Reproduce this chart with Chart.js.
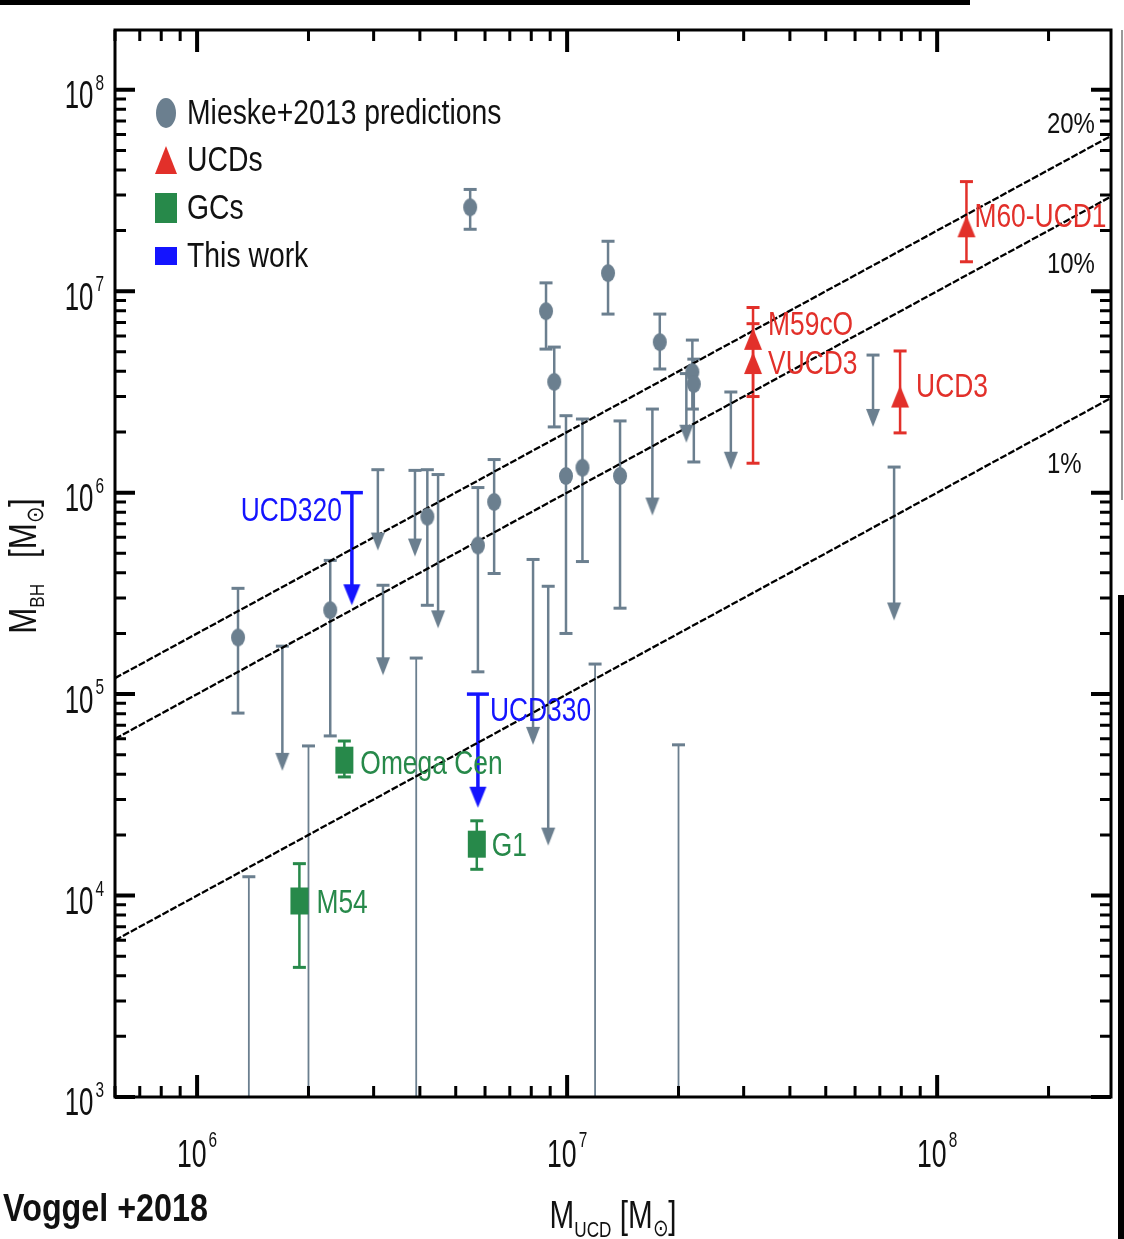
<!DOCTYPE html>
<html lang="en">
<head>
<meta charset="UTF-8">
<title>Black hole mass vs UCD mass</title>
<script src="https://cdn.jsdelivr.net/npm/chart.js"></script>
<style>
  html, body { margin: 0; padding: 0; background: #fff; }
  #wrap { width: 1124px; height: 1239px; position: relative; }
</style>
</head>
<body>
<div id="wrap"><canvas id="chart" width="1124" height="1239"></canvas></div>
<script>
// axis ranges, solar masses
const xRange = [6.0e5, 2.95e8];
const yRange = [1.0e3, 1.98e8];

// Mieske+2013 predictions with a central value
const mieskeX  = [1.29e6, 2.29e6, 4.19e6, 5.74e6, 6.35e6, 5.47e6, 8.77e6, 9.23e6, 1.29e7, 1.78e7, 9.93e6, 1.10e7, 1.39e7, 2.18e7, 2.20e7];
const mieskeY  = [1.91e5, 2.61e5, 7.6e5, 5.47e5, 9.0e5, 2.61e7, 7.96e6, 3.55e6, 1.23e7, 5.59e6, 1.21e6, 1.33e6, 1.21e6, 3.97e6, 3.46e6];
const mieskeLo = [8.05e4, 6.2e4, 2.76e5, 1.29e5, 3.97e5, 2.03e7, 5.16e6, 2.12e6, 7.7e6, 4.11e6, 2.0e5, 4.55e5, 2.67e5, 2.6e6, 1.42e6];
const mieskeHi = [3.35e5, 4.61e5, 1.30e6, 1.06e6, 1.46e6, 3.2e7, 1.10e7, 5.28e6, 1.77e7, 7.7e6, 2.41e6, 2.32e6, 2.27e6, 5.72e6, 4.6e6];

// Mieske+2013 upper limits (cap value and arrow tip)
const limitX   = [1.70e6, 3.08e6, 3.18e6, 3.88e6, 4.48e6, 8.09e6, 8.89e6, 1.70e7, 2.10e7, 2.77e7, 6.71e7, 7.65e7];
const limitTop = [1.73e5, 1.30e6, 3.47e5, 1.29e6, 1.23e6, 4.66e5, 3.43e5, 2.6e6, 3.9e6, 3.16e6, 4.82e6, 1.34e6];
const limitTip = [4.16e4, 5.16e5, 1.24e5, 4.82e5, 2.12e5, 5.6e4, 1.77e4, 7.7e5, 1.77e6, 1.30e6, 2.12e6, 2.32e5];

// Mieske+2013 bars whose lower end falls below the plot
const openX   = [1.38e6, 2.0e6, 3.91e6, 1.19e7, 2.0e7];
const openTop = [1.24e4, 5.53e4, 1.51e5, 1.41e5, 5.6e4];

// UCDs with measured black holes
const ucdNames = ['M60-UCD1', 'M59cO', 'VUCD3', 'UCD3'];
const ucdX  = [1.2e8, 3.18e7, 3.18e7, 7.94e7];
const ucdY  = [2.1e7, 5.8e6, 4.4e6, 3.0e6];
const ucdLo = [1.4e7, 3.0e6, 1.4e6, 1.98e6];
const ucdHi = [3.5e7, 8.3e6, 6.9e6, 5.05e6];

// globular clusters
const gcNames = ['Omega Cen', 'G1', 'M54'];
const gcX  = [2.5e6, 5.7e6, 1.89e6];
const gcY  = [4.7e4, 1.8e4, 9.4e3];
const gcLo = [3.88e4, 1.35e4, 4.4e3];
const gcHi = [5.85e4, 2.35e4, 1.44e4];

// this work: upper limits
const workNames = ['UCD320', 'UCD330'];
const workX   = [2.62e6, 5.74e6];
const workTop = [1.0e6, 1.0e5];
const workTip = [2.76e5, 2.73e4];

// constant black hole mass fractions
const ratioValues = [0.2, 0.1, 0.01];
const ratioLabels = ['20%', '10%', '1%'];
const ratioLabelX = [1.98e8, 1.98e8, 1.98e8];
const ratioLabelY = [6.7e7, 1.36e7, 1.38e6];

const legendLabels = ['Mieske+2013 predictions', 'UCDs', 'GCs', 'This work'];

// styles
const FONT = "'Liberation Sans', Arial, sans-serif";
const GRAY = '#6b7f8f', RED = '#e2302a', GREEN = '#27894a', BLUE = '#1414ff';

// label offsets in pixels from the marker
const ucdLabelOffset = [[8, -8], [15, -13], [15, 2], [16, -9]];
const gcLabelOffset = [[16, 5], [15, 3], [17, 3]];

function makeMarker(w, h, shape, color, tipCentered) {
  const c = document.createElement('canvas');
  c.width = w + 2;
  c.height = tipCentered ? 2 * h + 2 : h + 2;
  const g = c.getContext('2d');
  g.fillStyle = color;
  g.beginPath();
  if (shape === 'ellipse') g.ellipse(c.width / 2, c.height / 2, w / 2, h / 2, 0, 0, Math.PI * 2);
  else if (shape === 'rect') g.rect(1, 1, w, h);
  else if (shape === 'up') { g.moveTo(c.width / 2, 1); g.lineTo(w + 1, h + 1); g.lineTo(1, h + 1); g.closePath(); }
  else if (shape === 'down') { g.moveTo(1, 1); g.lineTo(w + 1, 1); g.lineTo(c.width / 2, h + 1); g.closePath(); }
  g.fill();
  return c;
}

const dotImg = makeMarker(14, 18, 'ellipse', GRAY);
const grayArrow = makeMarker(14, 18, 'down', GRAY, true);
const redTri = makeMarker(18, 22, 'up', RED);
const greenRect = makeMarker(18, 27, 'rect', GREEN);
const blueArrow = makeMarker(17, 21, 'down', BLUE, true);

function logTicks(min, max) {
  const t = [];
  for (let e = Math.floor(Math.log10(min)); e <= Math.ceil(Math.log10(max)); e++) {
    for (let m = 1; m <= 9; m++) {
      const v = m * Math.pow(10, e);
      if (v >= min * 0.999 && v <= max * 1.001) t.push({ value: v });
    }
  }
  return t;
}
const isDecade = v => Math.abs(Math.log10(v) - Math.round(Math.log10(v))) < 1e-9;

// condensed text: the figure uses a narrow Helvetica, emulated with a horizontal squeeze
function text(ctx, s, x, y, size, sx, align, opt) {
  opt = opt || {};
  ctx.save();
  ctx.font = (opt.bold ? 'bold ' : '') + size + 'px ' + FONT;
  ctx.textBaseline = opt.baseline || 'middle';
  const w = ctx.measureText(s).width * sx;
  const x0 = align === 'right' ? x - w : align === 'center' ? x - w / 2 : x;
  ctx.translate(x0, y);
  ctx.scale(sx, 1);
  ctx.textAlign = 'left';
  ctx.fillText(s, 0, 0);
  ctx.restore();
  return w;
}
function textWidth(ctx, s, size, sx) {
  ctx.save();
  ctx.font = size + 'px ' + FONT;
  const w = ctx.measureText(s).width * sx;
  ctx.restore();
  return w;
}
// pieces: [string, size, dy]
function richText(ctx, pieces, x, y, sx, align) {
  const total = pieces.reduce((s, p) => s + textWidth(ctx, p[0], p[1], sx), 0);
  let cx = align === 'right' ? x - total : align === 'center' ? x - total / 2 : x;
  pieces.forEach(p => { cx += text(ctx, p[0], cx, y + p[2], p[1], sx, 'left', { baseline: 'alphabetic' }); });
}

const pts = (xs, ys) => xs.map((x, i) => ({ x: x, y: ys[i] }));

const datasets = ratioValues.map(r => ({
  data: [{ x: xRange[0], y: r * xRange[0] }, { x: xRange[1], y: r * xRange[1] }],
  showLine: true, borderColor: '#000', borderWidth: 2.3, borderDash: [7, 2], pointRadius: 0, order: 5
}));
datasets.push(
  { data: pts(mieskeX, mieskeY), pointStyle: dotImg, order: 1 },
  { data: pts(limitX, limitTip), pointStyle: grayArrow, order: 1 },
  { data: pts(ucdX, ucdY), pointStyle: redTri, order: 0 },
  { data: pts(gcX, gcY), pointStyle: greenRect, order: 0 },
  { data: pts(workX, workTip), pointStyle: blueArrow, order: 0 }
);

function vbar(ctx, x, yTop, yBot, color, lw, capW, capLw, capTop, capBot) {
  ctx.strokeStyle = color;
  ctx.lineWidth = lw;
  ctx.beginPath(); ctx.moveTo(x, yTop); ctx.lineTo(x, yBot); ctx.stroke();
  ctx.lineWidth = capLw;
  if (capTop) { ctx.beginPath(); ctx.moveTo(x - capW / 2, yTop); ctx.lineTo(x + capW / 2, yTop); ctx.stroke(); }
  if (capBot) { ctx.beginPath(); ctx.moveTo(x - capW / 2, yBot); ctx.lineTo(x + capW / 2, yBot); ctx.stroke(); }
}

const figure = {
  id: 'figure',
  beforeDraw(chart) {
    // edges of the scanned page
    const ctx = chart.ctx;
    ctx.save();
    ctx.fillStyle = '#000';
    ctx.fillRect(0, 0, 970, 5);
    ctx.fillRect(1118, 595, 6, 644);
    ctx.fillStyle = '#999';
    ctx.fillRect(1121, 30, 2, 470);
    ctx.restore();
  },
  beforeDatasetsDraw(chart) {
    const { ctx, chartArea: a, scales: { x, y } } = chart;
    ctx.save();
    ctx.beginPath(); ctx.rect(a.left, a.top, a.width, a.height); ctx.clip();
    mieskeX.forEach((v, i) => vbar(ctx, x.getPixelForValue(v), y.getPixelForValue(mieskeHi[i]), y.getPixelForValue(mieskeLo[i]), GRAY, 2.5, 13, 3, true, true));
    limitX.forEach((v, i) => vbar(ctx, x.getPixelForValue(v), y.getPixelForValue(limitTop[i]), y.getPixelForValue(limitTip[i]) - 8, GRAY, 2.5, 13, 3, true, false));
    openX.forEach((v, i) => vbar(ctx, x.getPixelForValue(v), y.getPixelForValue(openTop[i]), a.bottom, GRAY, 1.8, 13, 3, true, false));
    ucdX.forEach((v, i) => vbar(ctx, x.getPixelForValue(v), y.getPixelForValue(ucdHi[i]), y.getPixelForValue(ucdLo[i]), RED, 2.5, 13, 3, true, true));
    gcX.forEach((v, i) => vbar(ctx, x.getPixelForValue(v), y.getPixelForValue(gcHi[i]), y.getPixelForValue(gcLo[i]), GREEN, 2.5, 13, 3, true, true));
    workX.forEach((v, i) => vbar(ctx, x.getPixelForValue(v), y.getPixelForValue(workTop[i]), y.getPixelForValue(workTip[i]) - 8, BLUE, 3.5, 22, 3.5, true, false));
    ctx.restore();
  },
  afterDatasetsDraw(chart) {
    const { ctx, scales: { x, y } } = chart;
    ctx.save();
    ctx.fillStyle = RED;
    ucdNames.forEach((n, i) => text(ctx, n, x.getPixelForValue(ucdX[i]) + ucdLabelOffset[i][0], y.getPixelForValue(ucdY[i]) + ucdLabelOffset[i][1], 33, 0.8, 'left'));
    ctx.fillStyle = GREEN;
    gcNames.forEach((n, i) => text(ctx, n, x.getPixelForValue(gcX[i]) + gcLabelOffset[i][0], y.getPixelForValue(gcY[i]) + gcLabelOffset[i][1], 33, 0.8, 'left'));
    ctx.fillStyle = BLUE;
    text(ctx, workNames[0], x.getPixelForValue(workX[0]) - 10, y.getPixelForValue(workTop[0]) + 19, 33, 0.8, 'right');
    text(ctx, workNames[1], x.getPixelForValue(workX[1]) + 12, y.getPixelForValue(workTop[1]) + 18, 33, 0.8, 'left');
    // fraction labels
    ctx.fillStyle = '#111';
    ratioLabels.forEach((t, i) => text(ctx, t, x.getPixelForValue(ratioLabelX[i]), y.getPixelForValue(ratioLabelY[i]), 30, 0.8, 'left'));
    ctx.restore();
  },
  afterDraw(chart) {
    const { ctx, chartArea: a, scales: { x, y } } = chart;
    ctx.save();
    // frame with inward ticks
    ctx.strokeStyle = '#000';
    ctx.lineWidth = 3;
    ctx.strokeRect(a.left, a.top, a.width, a.height);
    y.ticks.forEach(t => {
      const p = y.getPixelForValue(t.value), major = isDecade(t.value);
      const len = major ? 20 : 11;
      ctx.lineWidth = major ? 4 : 3;
      ctx.beginPath();
      ctx.moveTo(a.left, p); ctx.lineTo(a.left + len, p);
      ctx.moveTo(a.right, p); ctx.lineTo(a.right - len, p);
      ctx.stroke();
    });
    x.ticks.forEach(t => {
      const p = x.getPixelForValue(t.value), major = isDecade(t.value);
      const len = major ? 22 : 11;
      ctx.lineWidth = major ? 4 : 3;
      ctx.beginPath();
      ctx.moveTo(p, a.bottom); ctx.lineTo(p, a.bottom - len);
      ctx.moveTo(p, a.top); ctx.lineTo(p, a.top + len);
      ctx.stroke();
    });
    // decade tick labels, 10 with a raised exponent
    ctx.fillStyle = '#111';
    y.ticks.filter(t => isDecade(t.value)).forEach(t => {
      const p = y.getPixelForValue(t.value), e = String(Math.round(Math.log10(t.value)));
      const we = textWidth(ctx, e, 22, 0.7);
      text(ctx, '10', a.left - 13 - we, p + 8, 38, 0.68, 'right');
      text(ctx, e, a.left - 11 - we, p - 6, 22, 0.7, 'left');
    });
    x.ticks.filter(t => isDecade(t.value)).forEach(t => {
      const p = x.getPixelForValue(t.value), e = String(Math.round(Math.log10(t.value)));
      const wb = textWidth(ctx, '10', 38, 0.7), we = textWidth(ctx, e, 22, 0.7);
      const x0 = p - (wb + we + 2) / 2;
      text(ctx, '10', x0, 1157, 38, 0.7, 'left');
      text(ctx, e, x0 + wb + 2, 1141, 22, 0.7, 'left');
    });
    // legend
    const lx = a.left + 51, tx = a.left + 72;
    const rows = [a.top + 83, a.top + 130, a.top + 178, a.top + 226];
    ctx.fillStyle = GRAY; ctx.beginPath(); ctx.ellipse(lx, rows[0], 10, 15, 0, 0, Math.PI * 2); ctx.fill();
    ctx.fillStyle = RED; ctx.beginPath(); ctx.moveTo(lx, rows[1] - 14); ctx.lineTo(lx + 11, rows[1] + 14); ctx.lineTo(lx - 11, rows[1] + 14); ctx.closePath(); ctx.fill();
    ctx.fillStyle = GREEN; ctx.fillRect(lx - 11, rows[2] - 15, 22, 30);
    ctx.fillStyle = BLUE; ctx.fillRect(lx - 11, rows[3] - 9, 22, 18);
    ctx.fillStyle = '#111';
    legendLabels.forEach((l, i) => text(ctx, l, tx, rows[i] + 1, 35, 0.81, 'left'));
    // axis titles with subscripts
    ctx.save();
    ctx.translate(36, 566);
    ctx.rotate(-Math.PI / 2);
    richText(ctx, [['M', 38, 0], ['BH', 21, 8], ['   [M', 38, 0], ['⊙', 24, 7], [']', 38, 0]], 0, 0, 0.82, 'center');
    ctx.restore();
    richText(ctx, [['M', 38, 0], ['UCD', 22, 9], [' [M', 38, 0], ['⊙', 24, 8], [']', 38, 0]], (a.left + a.right) / 2, 1228, 0.78, 'center');
    // source note
    text(ctx, 'Voggel +2018', 3, 1211, 38, 0.85, 'left', { bold: true });
    ctx.restore();
  }
};

new Chart(document.getElementById('chart'), {
  type: 'scatter',
  data: { datasets: datasets },
  options: {
    responsive: false,
    devicePixelRatio: 1,
    animation: false,
    layout: { padding: { top: 30, right: 13, left: 0, bottom: 0 } },
    plugins: { legend: { display: false }, tooltip: { enabled: false } },
    scales: {
      x: {
        type: 'logarithmic', min: xRange[0], max: xRange[1],
        afterBuildTicks: s => { s.ticks = logTicks(xRange[0], xRange[1]); },
        afterFit: s => { s.height = 142; },
        grid: { display: false, drawTicks: false },
        border: { display: false },
        ticks: { display: false, autoSkip: false }
      },
      y: {
        type: 'logarithmic', min: yRange[0], max: yRange[1],
        afterBuildTicks: s => { s.ticks = logTicks(yRange[0], yRange[1]); },
        afterFit: s => { s.width = 115; },
        grid: { display: false, drawTicks: false },
        border: { display: false },
        ticks: { display: false, autoSkip: false }
      }
    }
  },
  plugins: [figure]
});
</script>
</body>
</html>
